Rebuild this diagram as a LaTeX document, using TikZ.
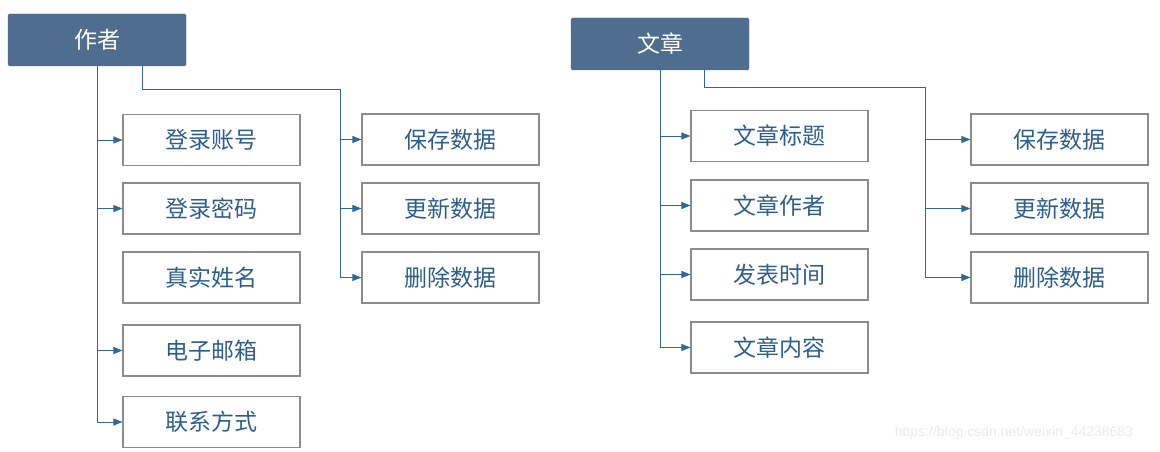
\documentclass[tikz,border=0pt]{standalone}
\usepackage{fontspec}
\newfontfamily\cjk{Noto Sans CJK SC}
\newfontfamily\wmfont{Liberation Sans}
\usetikzlibrary{arrows.meta}
\definecolor{headblue}{HTML}{4E6D8F}
\definecolor{lineblue}{HTML}{2F6A97}
\definecolor{textblue}{HTML}{2E5E8C}
\definecolor{boxgray}{HTML}{8C8C8C}
\tikzset{
  head/.style={fill=headblue, draw=headblue, rounded corners=1.5pt,
    minimum width=178, minimum height=52, inner sep=0pt,
    text=white, font=\cjk\fontsize{23}{27}\selectfont},
  item/.style={draw=boxgray, line width=1.1pt,
    minimum width=177, minimum height=51, inner sep=0pt,
    text=textblue, font=\cjk\fontsize{23}{27}\selectfont},
  link/.style={draw=lineblue, line width=1pt},
  arr/.style={link, -{Triangle[length=9pt,width=7pt]}},
}
\begin{document}
\begin{tikzpicture}[x=1pt, y=-1pt]
\useasboundingbox (0,0) rectangle (1160,452);
% author side
\node[head] (ha) at (97,40) {作者};
\foreach \n/\t/\y in {la1/登录账号/140, la2/登录密码/208.5, la3/真实姓名/277.5,
                      la4/电子邮箱/350.5, la5/联系方式/422}
  \node[item] (\n) at (211.5,\y) {\t};
\foreach \n/\t/\y in {ra1/保存数据/139.5, ra2/更新数据/208.5, ra3/删除数据/277.5}
  \node[item] (\n) at (450.5,\y) {\t};
\draw[link] (ha.south) -- (ha.south |- la5.west);
\foreach \n in {la1,la2,la4,la5}
  \draw[arr] (ha.south |- \n.west) -- (\n.west);
\coordinate (ja) at (340,90);
\draw[link] ([xshift=45]ha.south) |- (ja) -- (ja |- ra3.west);
\foreach \n in {ra1,ra2,ra3}
  \draw[arr] (ja |- \n.west) -- (\n.west);
% article side
\node[head] (hb) at (660,44) {文章};
\foreach \n/\t/\y in {lb1/文章标题/136, lb2/文章作者/205.5, lb3/发表时间/274.5,
                      lb4/文章内容/347.5}
  \node[item] (\n) at (779.5,\y) {\t};
\foreach \n/\t/\y in {rb1/保存数据/139.5, rb2/更新数据/208.5, rb3/删除数据/277.5}
  \node[item] (\n) at (1059.5,\y) {\t};
\draw[link] (hb.south) -- (hb.south |- lb4.west);
\foreach \n in {lb1,lb2,lb3,lb4}
  \draw[arr] (hb.south |- \n.west) -- (\n.west);
\coordinate (jb) at (925,88);
\draw[link] ([xshift=44]hb.south) |- (jb) -- (jb |- rb3.west);
\foreach \n in {rb1,rb2,rb3}
  \draw[arr] (jb |- \n.west) -- (\n.west);
% watermark
\node[text=black!8, font=\wmfont\fontsize{14}{16}\selectfont] (wm) at (1014,433)
  {https://blog.csdn.net/weixin\_44238683};
\end{tikzpicture}
\end{document}
